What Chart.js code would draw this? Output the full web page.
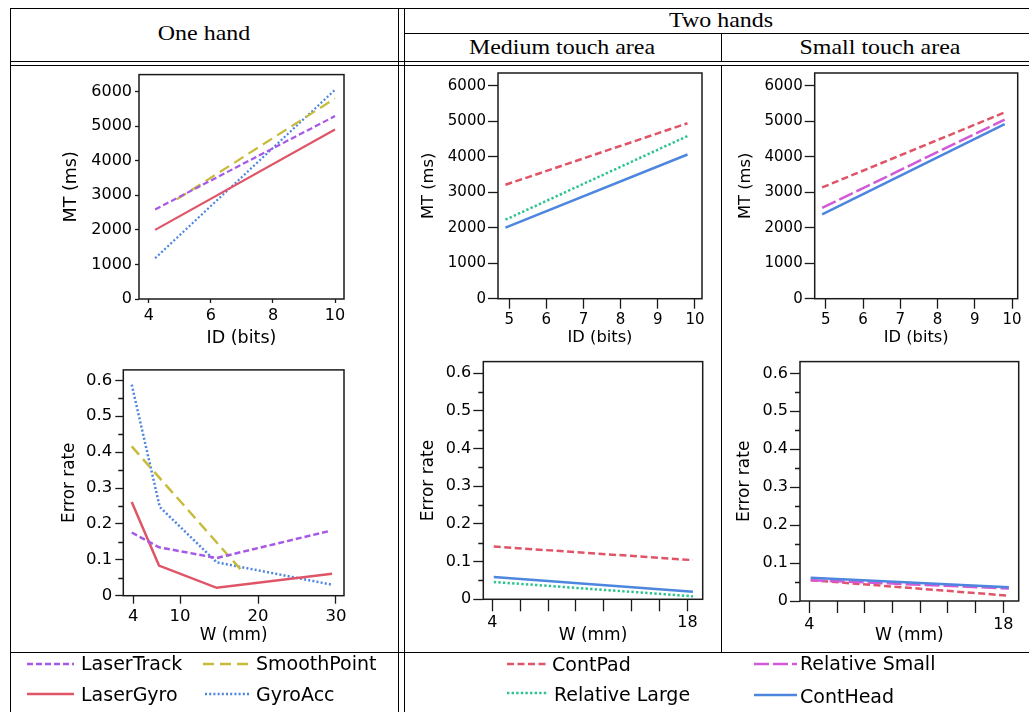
<!DOCTYPE html>
<html><head><meta charset="utf-8">
<script src="https://cdn.jsdelivr.net/npm/chart.js@4.4.1/dist/chart.umd.min.js"></script>
<style>
html,body{margin:0;padding:0;background:#fff;}
#root{position:relative;width:1029px;height:712px;overflow:hidden;background:#fff;}
.hl{position:absolute;height:1px;background:#000;}
.vl{position:absolute;width:1px;background:#000;}
.hdr{position:absolute;font-family:"Liberation Serif","Times New Roman",serif;font-size:21px;color:#000;white-space:nowrap;transform:translate(-50%,-50%) scaleX(1.14);}
canvas{position:absolute;}
.leg{position:absolute;font-family:"DejaVu Sans";font-size:19px;color:#000;white-space:nowrap;transform:translateY(-50%);line-height:1.2;}
svg{position:absolute;left:0;top:0;}
</style></head>
<body><div id="root">
<div class="hl" style="left:10px;top:8px;width:1019px"></div>
<div class="hl" style="left:404px;top:33px;width:625px"></div>
<div class="hl" style="left:10px;top:61px;width:1019px"></div>
<div class="hl" style="left:10px;top:65px;width:1019px"></div>
<div class="hl" style="left:10px;top:652px;width:1019px"></div>
<div class="vl" style="left:10px;top:8px;height:704px"></div>
<div class="vl" style="left:398px;top:8px;height:704px"></div>
<div class="vl" style="left:404px;top:8px;height:704px"></div>
<div class="vl" style="left:721px;top:33px;height:28px"></div>
<div class="vl" style="left:721px;top:65px;height:587px"></div>
<div class="hdr" style="left:204px;top:33px">One hand</div>
<div class="hdr" style="left:721px;top:20px">Two hands</div>
<div class="hdr" style="left:562px;top:47px">Medium touch area</div>
<div class="hdr" style="left:880px;top:47px">Small touch area</div>

<canvas id="c1" width="310" height="290" style="left:55px;top:62px"></canvas>
<canvas id="c2" width="310" height="290" style="left:410px;top:62px"></canvas>
<canvas id="c3" width="304" height="290" style="left:725px;top:62px"></canvas>
<canvas id="c4" width="310" height="293" style="left:55px;top:357px"></canvas>
<canvas id="c5" width="310" height="300" style="left:410px;top:350px"></canvas>
<canvas id="c6" width="304" height="300" style="left:725px;top:350px"></canvas>

<svg width="1029" height="712" id="legsvg"></svg>
<div class="leg" style="left:81px;top:663px">LaserTrack</div>
<div class="leg" style="left:256px;top:663px">SmoothPoint</div>
<div class="leg" style="left:81px;top:694px">LaserGyro</div>
<div class="leg" style="left:256px;top:694px">GyroAcc</div>
<div class="leg" style="left:552px;top:664px">ContPad</div>
<div class="leg" style="left:800px;top:663px">Relative Small</div>
<div class="leg" style="left:554px;top:694px">Relative Large</div>
<div class="leg" style="left:800px;top:696px">ContHead</div>
</div>
<script>
// ---------- DATA ----------
// One hand: MT (ms) vs ID (bits)
const ohIdLaserTrack = [4.2, 10.0];
const ohMtLaserTrack = [2590, 5290];
const ohIdSmoothPoint = [4.9, 10.0];
const ohMtSmoothPoint = [2880, 5800];
const ohIdLaserGyro = [4.2, 10.0];
const ohMtLaserGyro = [2000, 4900];
const ohIdGyroAcc = [4.2, 10.0];
const ohMtGyroAcc = [1180, 6050];
// One hand: error rate vs W (mm)
const ohWLaserTrack = [3.8, 7.3, 14.7, 29.3];
const ohErrLaserTrack = [0.176, 0.135, 0.105, 0.181];
const ohWLaserGyro = [3.8, 7.3, 14.7, 29.5];
const ohErrLaserGyro = [0.261, 0.084, 0.022, 0.061];
const ohWSmoothPoint = [3.8, 18.1];
const ohErrSmoothPoint = [0.416, 0.065];
const ohWGyroAcc = [3.8, 7.4, 14.7, 29.4];
const ohErrGyroAcc = [0.588, 0.247, 0.093, 0.031];
// Two hands, medium touch area: MT vs ID
const thIdMedium = [4.9, 9.8];
const thMtMedContPad = [3210, 4944];
const thMtMedRelLarge = [2226, 4583];
const thMtMedContHead = [2004, 4063];
// Two hands, small touch area: MT vs ID
const thIdSmall = [4.9, 9.8];
const thMtSmallContPad = [3135, 5250];
const thMtSmallRelSmall = [2560, 5046];
const thMtSmallContHead = [2375, 4917];
// Two hands: error rate vs W (mm)
const thWMedium = [4.1, 18.4];
const thErrMedContPad = [0.140, 0.104];
const thErrMedContHead = [0.059, 0.020];
const thErrMedRelLarge = [0.046, 0.008];
const thWSmall = [4.1, 18.4];
const thErrSmallContHead = [0.061, 0.036];
const thErrSmallRelSmall = [0.055, 0.033];
const thErrSmallContPad = [0.055, 0.014];
// Tick values
const ohIdTicks = [4, 6, 8, 10];
const mtTicks = [0, 1000, 2000, 3000, 4000, 5000, 6000];
const thIdTicks = [5, 6, 7, 8, 9, 10];
const ohWTicks = [4, 10, 20, 30];
const errTicks = [0, 0.1, 0.2, 0.3, 0.4, 0.5, 0.6];
const errMinorTicks = [0.05, 0.15, 0.25, 0.35, 0.45, 0.55];
const thWTicks = [4, 6, 8, 10, 12, 14, 16, 18];
const thWLabelled = [4, 18];

// ---------- STYLES ----------
const COL = {
  laserTrack: '#a658e6', smoothPoint: '#c8bb3c', laserGyro: '#e05468', gyroAcc: '#4d86de',
  contPad: '#e05468', relLarge: '#2ec390', relSmall: '#d35ad6', contHead: '#4d86de'
};
const DASH = {
  laserTrack: [6, 3], smoothPoint: [11, 6], laserGyro: [], gyroAcc: [2, 2.2],
  contPad: [7, 3.5], relLarge: [2.4, 2.2], relSmall: [15, 4], contHead: []
};

Chart.defaults.font.family = 'DejaVu Sans';
Chart.defaults.color = '#000';

const zip = (xs, ys) => xs.map((x, i) => ({x, y: ys[i]}));
const ds = (key, xs, ys, w) => ({
  data: zip(xs, ys), borderColor: COL[key], borderDash: DASH[key], borderWidth: w,
  pointRadius: 0, tension: 0, fill: false, borderCapStyle: 'butt'
});

const framePlugin = {
  id: 'frame',
  afterDraw(chart, args, opts) {
    const {ctx, chartArea: a} = chart;
    ctx.save();
    ctx.strokeStyle = '#1a1a1a';
    ctx.lineWidth = 1.5;
    ctx.strokeRect(a.left, a.top, a.right - a.left, a.bottom - a.top);
    if (opts.minor) {
      const ys = chart.scales.y;
      ctx.lineWidth = 1.3;
      ctx.beginPath();
      for (const v of opts.minor) {
        const p = Math.round(ys.getPixelForValue(v)) + 0.5;
        ctx.moveTo(a.left, p); ctx.lineTo(a.left - opts.minorLen, p);
      }
      ctx.stroke();
    }
    ctx.restore();
  }
};

function makeChart(id, cfg) {
  const cv = document.getElementById(id);
  const W = cv.width, H = cv.height;
  const tickFont = {size: cfg.tickSize};
  const titleFont = {size: cfg.titleSize};
  return new Chart(cv, {
    type: 'line',
    data: {datasets: cfg.datasets},
    plugins: [framePlugin],
    options: {
      responsive: false, animation: false, devicePixelRatio: 1,
      layout: {padding: {left: 0, top: cfg.box[1], right: W - cfg.box[2], bottom: 0}},
      plugins: {legend: {display: false}, tooltip: {enabled: false}, frame: {minor: cfg.minor, minorLen: 5}},
      scales: {
        x: {
          type: 'linear', min: cfg.xr[0], max: cfg.xr[1],
          afterBuildTicks: s => { s.ticks = cfg.xTicks.map(v => ({value: v})); },
          afterFit: s => { s.height = H - cfg.box[3]; },
          ticks: {autoSkip: false, maxRotation: 0, padding: cfg.xPad, font: tickFont, color: '#000',
                  callback: v => (cfg.xLabelled ? (cfg.xLabelled.includes(v) ? String(v) : '') : String(v))},
          grid: {display: true, drawOnChartArea: false, drawTicks: true, tickLength: cfg.xTickLen, tickColor: '#1a1a1a', tickWidth: 1.3},
          border: {display: false},
          title: {display: true, text: cfg.xTitle, font: titleFont, color: '#000', padding: {top: 0, bottom: cfg.xTitlePad}}
        },
        y: {
          type: 'linear', min: cfg.yr[0], max: cfg.yr[1],
          afterBuildTicks: s => { s.ticks = cfg.yTicks.map(v => ({value: v})); },
          afterFit: s => { s.width = cfg.box[0]; },
          ticks: {autoSkip: false, padding: cfg.yPad, font: tickFont, color: '#000',
                  callback: v => String(parseFloat(v.toFixed(2)))},
          grid: {display: true, drawOnChartArea: false, drawTicks: true, tickLength: cfg.yTickLen, tickColor: '#1a1a1a', tickWidth: 1.3},
          border: {display: false},
          title: {display: true, text: cfg.yTitle, font: titleFont, color: '#000', padding: {top: cfg.yTitlePad, bottom: 0}}
        }
      }
    }
  });
}

// Chart 1: one hand, MT vs ID  (canvas at 55,62)
makeChart('c1', {
  box: [139 - 55, 70 - 62, 344 - 55, 299 - 62],
  xr: [3.68, 10.29], yr: [0, 6490], xTicks: ohIdTicks, yTicks: mtTicks,
  tickSize: 16, titleSize: 17.5, xPad: 3, yPad: 3, xTickLen: 4, yTickLen: 4,
  xTitle: 'ID (bits)', yTitle: 'MT (ms)', xTitlePad: 3.5, yTitlePad: 6,
  datasets: [
    ds('laserTrack', ohIdLaserTrack, ohMtLaserTrack, 2.2),
    ds('smoothPoint', ohIdSmoothPoint, ohMtSmoothPoint, 2.2),
    ds('laserGyro', ohIdLaserGyro, ohMtLaserGyro, 2.2),
    ds('gyroAcc', ohIdGyroAcc, ohMtGyroAcc, 2.2)
  ]
});
// Chart 2: two hands medium, MT vs ID (canvas at 410,62)
makeChart('c2', {
  box: [498 - 410, 70 - 62, 702 - 410, 298.7 - 62],
  xr: [4.70, 10.19], yr: [0, 6360], xTicks: thIdTicks, yTicks: mtTicks,
  tickSize: 15, titleSize: 16.3, xPad: 2, yPad: 2, xTickLen: 10, yTickLen: 10,
  xTitle: 'ID (bits)', yTitle: 'MT (ms)', xTitlePad: 4.5, yTitlePad: 9,
  datasets: [
    ds('contPad', thIdMedium, thMtMedContPad, 2.5),
    ds('relLarge', thIdMedium, thMtMedRelLarge, 2.5),
    ds('contHead', thIdMedium, thMtMedContHead, 2.5)
  ]
});
// Chart 3: two hands small, MT vs ID (canvas at 725,62)
makeChart('c3', {
  box: [814.7 - 725, 70 - 62, 1017.7 - 725, 298.7 - 62],
  xr: [4.70, 10.15], yr: [0, 6360], xTicks: thIdTicks, yTicks: mtTicks,
  tickSize: 15, titleSize: 16.3, xPad: 2, yPad: 2, xTickLen: 10, yTickLen: 10,
  xTitle: 'ID (bits)', yTitle: 'MT (ms)', xTitlePad: 4, yTitlePad: 11,
  datasets: [
    ds('contPad', thIdSmall, thMtSmallContPad, 2.5),
    ds('relSmall', thIdSmall, thMtSmallRelSmall, 2.5),
    ds('contHead', thIdSmall, thMtSmallContHead, 2.5)
  ]
});
// Chart 4: one hand, error rate vs W (canvas at 55,357)
makeChart('c4', {
  box: [123.3 - 55, 365 - 357, 344 - 55, 595.7 - 357],
  xr: [2.72, 31.03], yr: [0, 0.629], xTicks: ohWTicks, yTicks: errTicks, minor: errMinorTicks,
  tickSize: 16.5, titleSize: 16.8, xPad: 3, yPad: 3, xTickLen: 8, yTickLen: 8,
  xTitle: 'W (mm)', yTitle: 'Error rate', xTitlePad: 4, yTitlePad: 4.5,
  datasets: [
    ds('laserTrack', ohWLaserTrack, ohErrLaserTrack, 2.5),
    ds('smoothPoint', ohWSmoothPoint, ohErrSmoothPoint, 2.5),
    ds('laserGyro', ohWLaserGyro, ohErrLaserGyro, 2.5),
    ds('gyroAcc', ohWGyroAcc, ohErrGyroAcc, 2.5)
  ]
});
// Chart 5: two hands medium, error rate vs W (canvas at 410,350)
makeChart('c5', {
  box: [483.3 - 410, 357.7 - 350, 702.7 - 410, 599.3 - 350],
  xr: [3.35, 19.1], yr: [0, 0.631], xTicks: thWTicks, xLabelled: thWLabelled, yTicks: errTicks, minor: errMinorTicks,
  tickSize: 16, titleSize: 17, xPad: 2, yPad: 2, xTickLen: 12, yTickLen: 10,
  xTitle: 'W (mm)', yTitle: 'Error rate', xTitlePad: 4, yTitlePad: 8,
  datasets: [
    ds('contPad', thWMedium, thErrMedContPad, 2.5),
    ds('contHead', thWMedium, thErrMedContHead, 2.5),
    ds('relLarge', thWMedium, thErrMedRelLarge, 2.5)
  ]
});
// Chart 6: two hands small, error rate vs W (canvas at 725,350)
makeChart('c6', {
  box: [800 - 725, 359 - 350, 1018.7 - 725, 601 - 350],
  xr: [3.33, 19.11], yr: [0, 0.631], xTicks: thWTicks, xLabelled: thWLabelled, yTicks: errTicks, minor: errMinorTicks,
  tickSize: 16, titleSize: 17, xPad: 2, yPad: 2, xTickLen: 12, yTickLen: 10,
  xTitle: 'W (mm)', yTitle: 'Error rate', xTitlePad: 4, yTitlePad: 9.5,
  datasets: [
    ds('contHead', thWSmall, thErrSmallContHead, 2.5),
    ds('relSmall', thWSmall, thErrSmallRelSmall, 2.5),
    ds('contPad', thWSmall, thErrSmallContPad, 2.5)
  ]
});

// ---------- LEGEND SAMPLES ----------
const legendSamples = [
  ['laserTrack', 27, 74, 664], ['smoothPoint', 203, 251, 664],
  ['laserGyro', 27, 74, 694], ['gyroAcc', 205, 251, 694],
  ['contPad', 507, 546, 664], ['relSmall', 754, 797, 664],
  ['relLarge', 507, 548, 693], ['contHead', 754, 797, 695]
];
const svg = document.getElementById('legsvg');
for (const [k, x1, x2, y] of legendSamples) {
  const l = document.createElementNS('http://www.w3.org/2000/svg', 'line');
  l.setAttribute('x1', x1); l.setAttribute('x2', x2); l.setAttribute('y1', y); l.setAttribute('y2', y);
  l.setAttribute('stroke', COL[k]); l.setAttribute('stroke-width', 2.5);
  if (DASH[k].length) l.setAttribute('stroke-dasharray', DASH[k].join(' '));
  svg.appendChild(l);
}
</script>
</body></html>
